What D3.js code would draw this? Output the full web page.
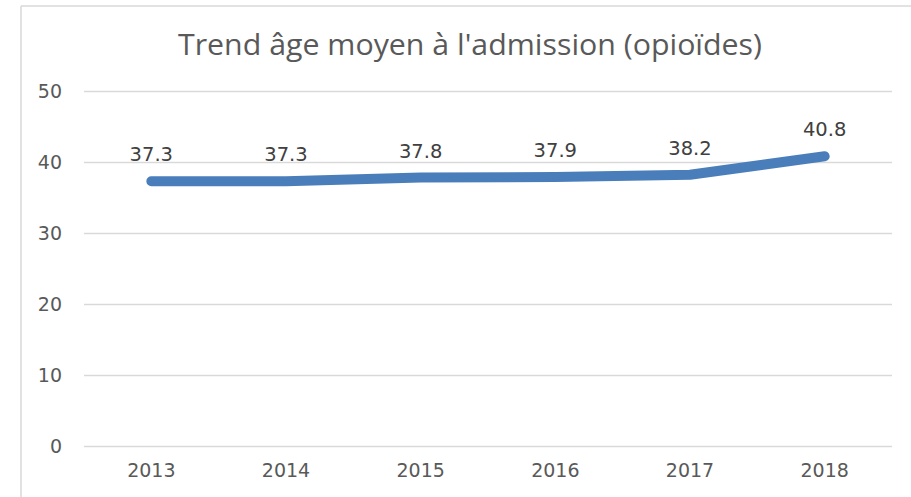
<!DOCTYPE html>
<html>
<head>
<meta charset="utf-8">
<script src="https://cdn.jsdelivr.net/npm/d3@7"></script>
<style>
  html, body { margin: 0; padding: 0; background: #fff; }
  svg { display: block; }
</style>
</head>
<body>
<svg id="chart" width="911" height="497"></svg>
<script>
const title = "Trend âge moyen à l'admission (opioïdes)";
const years = ["2013", "2014", "2015", "2016", "2017", "2018"];
const ages = [37.3, 37.3, 37.8, 37.9, 38.2, 40.8];
const yTicks = [0, 10, 20, 30, 40, 50];

const svg = d3.select("#chart");
const W = 911, H = 497;
const plot = { left: 84, right: 892, top: 91, bottom: 446 };

// chart frame
svg.append("rect").attr("x", 0).attr("y", 0).attr("width", W).attr("height", H).attr("fill", "#fff");
svg.append("line").attr("x1", 21).attr("x2", 21).attr("y1", 6).attr("y2", H)
  .attr("stroke", "#d9d9d9").attr("stroke-width", 1.5);
svg.append("line").attr("x1", 21).attr("x2", W).attr("y1", 6).attr("y2", 6)
  .attr("stroke", "#d9d9d9").attr("stroke-width", 1.5);

const x = d3.scaleBand().domain(years).range([plot.left, plot.right]);
const y = d3.scaleLinear().domain([0, 50]).range([plot.bottom, plot.top]);
const cx = d => x(d) + x.bandwidth() / 2;

// gridlines + y labels
const yAxis = d3.axisLeft(y).tickValues(yTicks).tickSize(-(plot.right - plot.left)).tickPadding(22).tickFormat(d3.format("d"));
const gy = svg.append("g").attr("transform", `translate(${plot.left},0)`).call(yAxis);
gy.select(".domain").remove();
gy.selectAll(".tick line").attr("stroke", "#d9d9d9").attr("stroke-width", 1.5);
gy.selectAll(".tick text").attr("fill", "#595959").attr("font-family", "DejaVu Sans")
  .attr("font-size", 19).attr("dy", "0.35em");

// x labels
const xAxis = d3.axisBottom(x).tickSize(0).tickPadding(18);
const gx = svg.append("g").attr("transform", `translate(0,${plot.bottom})`).call(xAxis);
gx.select(".domain").remove();
gx.selectAll(".tick text").attr("fill", "#595959").attr("font-family", "DejaVu Sans")
  .attr("font-size", 19);

// line
const data = years.map((yr, i) => ({ yr, v: ages[i] }));
svg.append("path").datum(data)
  .attr("fill", "none").attr("stroke", "#4a7ebb").attr("stroke-width", 10)
  .attr("stroke-linecap", "round").attr("stroke-linejoin", "round")
  .attr("d", d3.line().x(d => cx(d.yr)).y(d => y(d.v)));

// data labels
svg.append("g").selectAll("text").data(data).join("text")
  .attr("x", d => cx(d.yr)).attr("y", d => y(d.v) - 20)
  .attr("text-anchor", "middle").attr("fill", "#404040")
  .attr("font-family", "DejaVu Sans").attr("font-size", 19.5)
  .text(d => d.v.toFixed(1));

// title
svg.append("text").attr("x", 470).attr("y", 55).attr("text-anchor", "middle")
  .attr("fill", "#595959").attr("font-family", "Open Sans").attr("font-size", 30)
  .attr("textLength", 584).attr("lengthAdjust", "spacingAndGlyphs")
  .text(title);
</script>
</body>
</html>
